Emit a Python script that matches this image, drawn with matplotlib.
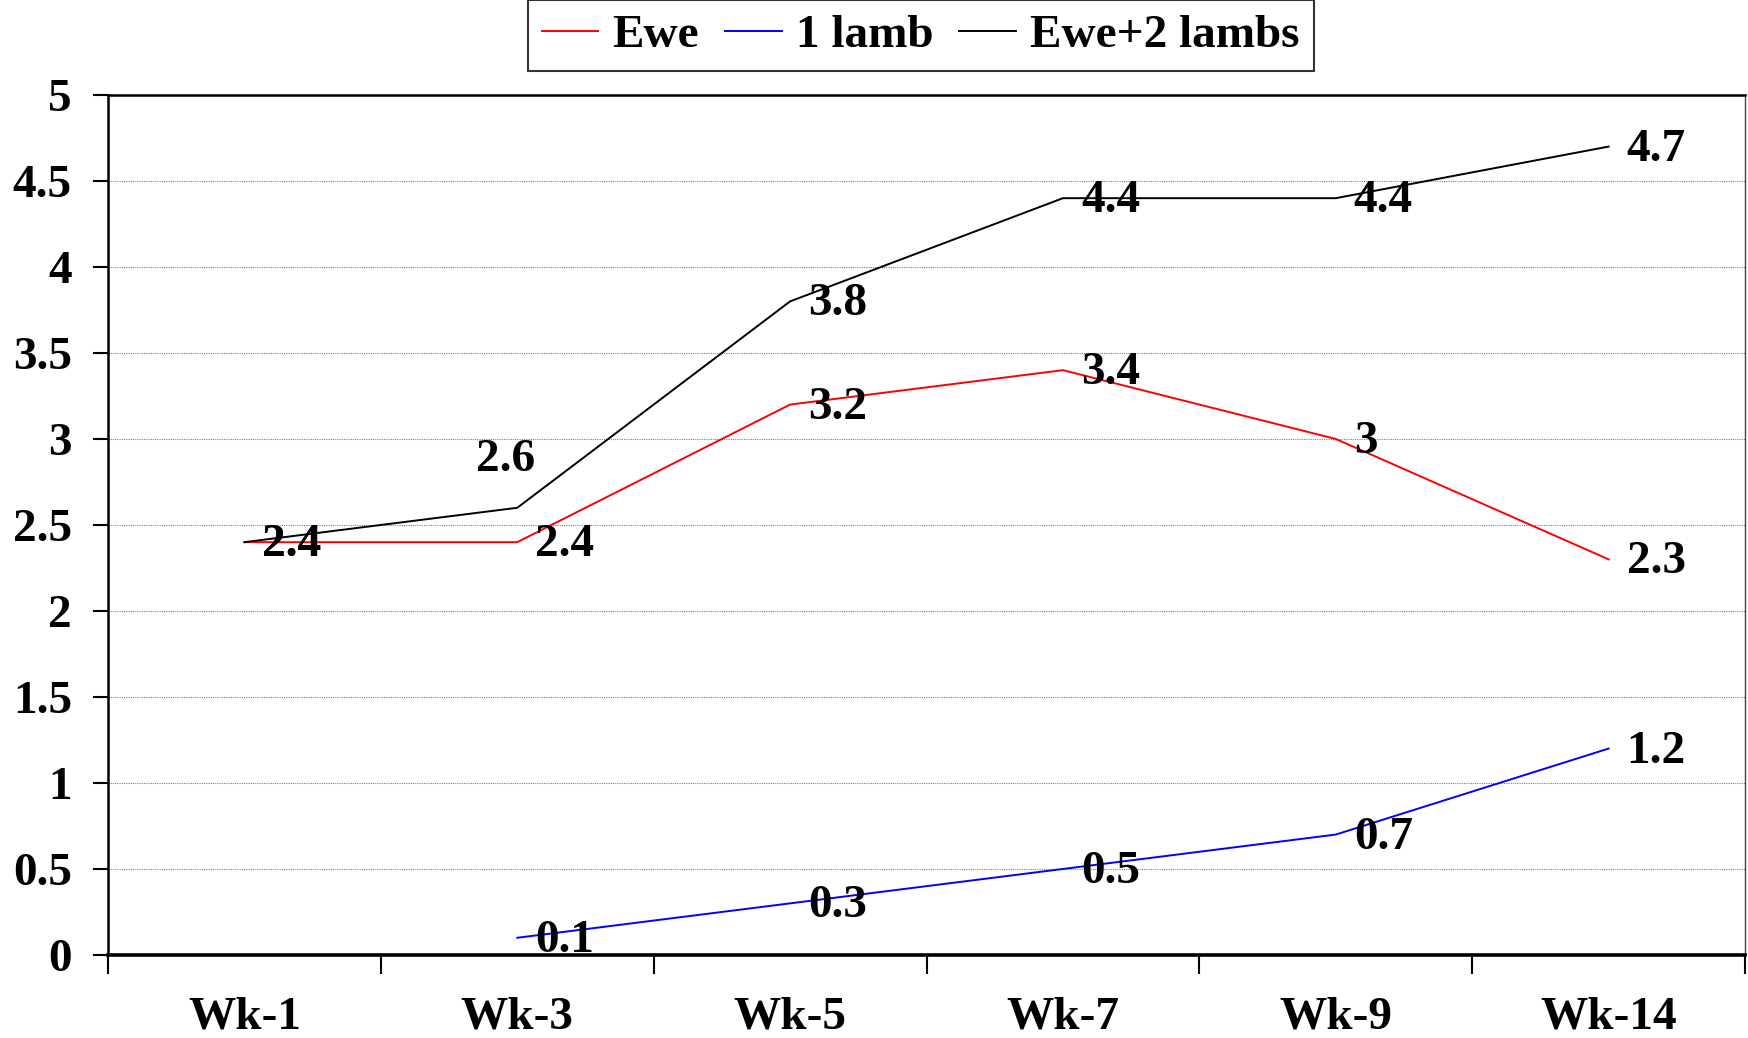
import numpy as np
import matplotlib.pyplot as plt

weeks = ["Wk-1", "Wk-3", "Wk-5", "Wk-7", "Wk-9", "Wk-14"]
ewe = [2.4, 2.4, 3.2, 3.4, 3.0, 2.3]
one_lamb = [np.nan, 0.1, 0.3, 0.5, 0.7, 1.2]
ewe_two_lambs = [2.4, 2.6, 3.8, 4.4, 4.4, 4.7]
y_ticks = [0, 0.5, 1, 1.5, 2, 2.5, 3, 3.5, 4, 4.5, 5]

plt.rcParams["font.family"] = ["Liberation Serif", "DejaVu Serif"]
plt.rcParams["font.weight"] = "bold"
FS = 34


def fmt(v):
    return f"{v:g}"


fig = plt.figure(figsize=(17.48, 10.38), dpi=100)
ax = fig.add_axes([0.0618, 0.0800, 0.9365, 0.8285])

x = np.arange(len(weeks))
series = [
    ("Ewe", ewe, "#ff0000"),
    ("1 lamb", one_lamb, "#0000ff"),
    ("Ewe+2 lambs", ewe_two_lambs, "#000000"),
]
for name, vals, col in series:
    ax.plot(x, vals, color=col, lw=1.4, label=name)
    for xi, v in zip(x, vals):
        if np.isnan(v):
            continue
        off = (18, -3)
        ha = "left"
        if name == "Ewe+2 lambs" and xi == 1:
            off = (-12, 48)
            ha = "center"
        ax.annotate(fmt(v), (xi, v), xytext=off, textcoords="offset pixels",
                    ha=ha, va="center", fontsize=FS, fontweight="bold")

ax.set_xlim(-0.5, len(weeks) - 0.5)
ax.set_ylim(0, 5)
ax.set_yticks(y_ticks)
ax.set_yticklabels([fmt(t) for t in y_ticks], fontsize=FS, fontweight="bold")
ax.set_xticks(x)
ax.set_xticklabels(weeks, fontsize=FS, fontweight="bold")
ax.tick_params(axis="x", which="major", length=0, pad=30)
ax.set_xticks(np.arange(-0.5, len(weeks)), minor=True)
ax.tick_params(axis="x", which="minor", length=14, width=1.5)
ax.tick_params(axis="y", length=11, width=1.5, pad=15)

ax.yaxis.grid(True, color="#808080", ls=(0, (1, 1)), lw=0.8)
ax.set_axisbelow(True)
ax.spines["left"].set_linewidth(1.8)
ax.spines["bottom"].set_linewidth(2.6)
ax.spines["top"].set_linewidth(1.8)
ax.spines["right"].set_linewidth(1.0)
ax.spines["right"].set_color("#444444")

leg = ax.legend(loc="lower center", bbox_to_anchor=(0.4965, 1.0), ncol=3,
                frameon=True, fancybox=False, edgecolor="black",
                prop={"size": FS, "weight": "bold"}, handlelength=1.2,
                handletextpad=0.3, columnspacing=0.55, borderpad=0.3,
                borderaxespad=0.5)
leg.get_frame().set_linewidth(1.5)

fig.savefig("out.png", dpi=100)
